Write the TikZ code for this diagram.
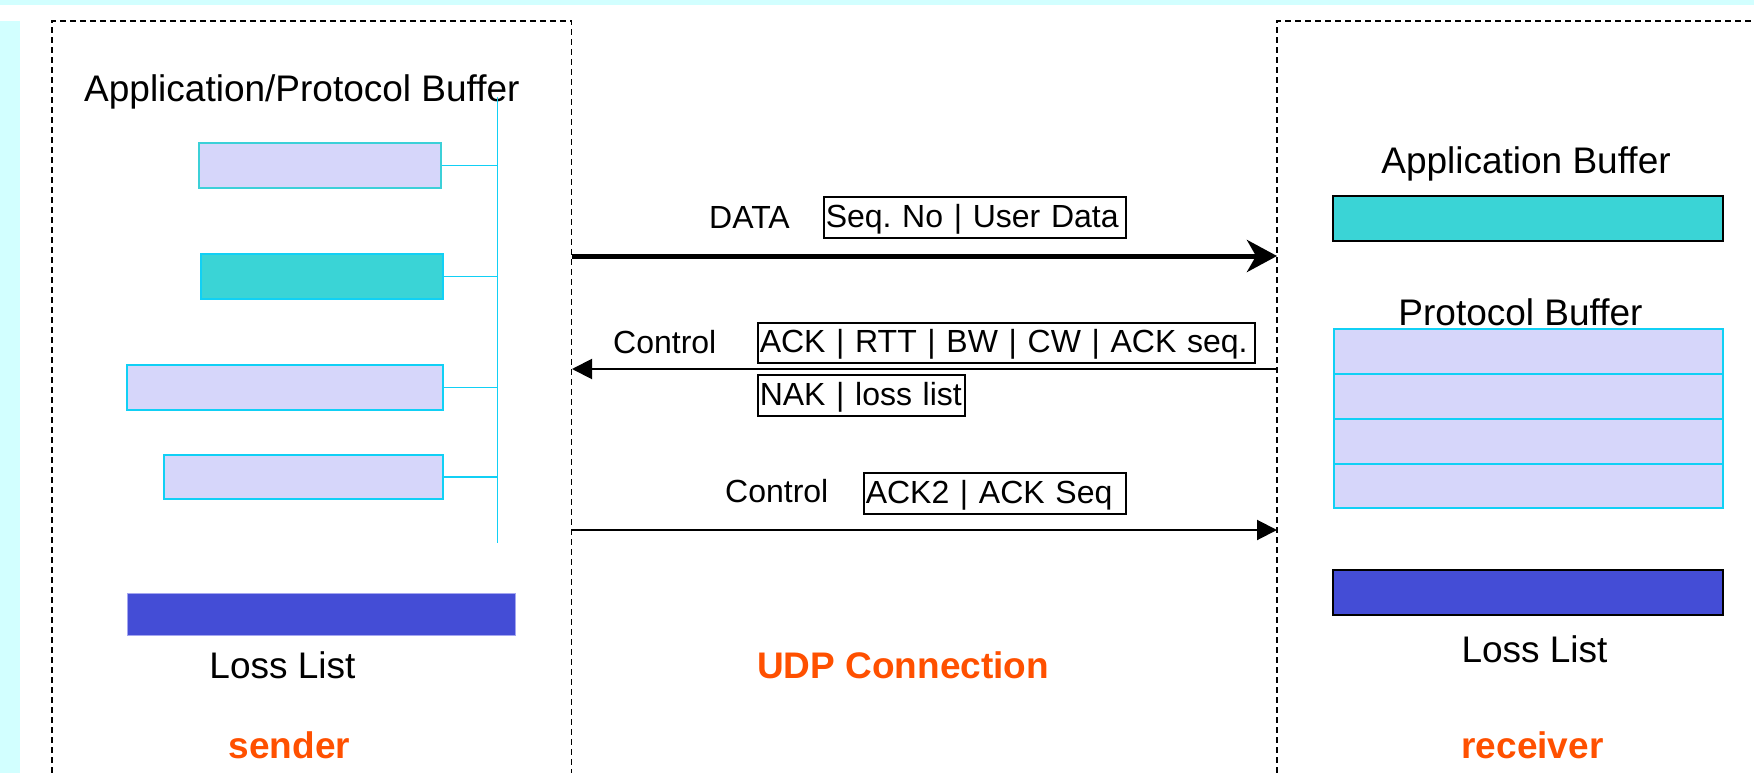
\documentclass[tikz,border=0pt]{standalone}
\usepackage{fontspec}
\setmainfont{Liberation Sans}
\usetikzlibrary{arrows.meta}
\definecolor{bgcyan}{HTML}{D2FFFF}
\definecolor{lav}{HTML}{D6D6FA}
\definecolor{turq}{HTML}{3AD4D6}
\definecolor{lossblue}{HTML}{444DD6}
\definecolor{wire}{HTML}{11D0F5}
\definecolor{orng}{HTML}{FF5000}
\definecolor{tealedge}{HTML}{3CD0D8}
\definecolor{lossedge}{HTML}{A4A6F0}
\begin{document}
\frenchspacing
\begin{tikzpicture}[x=1pt,y=-1pt,
  big/.style={font=\fontsize{37}{44}\selectfont, inner sep=0pt},
  mid/.style={font=\fontsize{32}{38}\selectfont, inner sep=0pt},
  hdr/.style={font=\fontsize{37}{44}\selectfont\bfseries, text=orng, inner sep=0pt},
  pkt/.style={draw=black, line width=1.5pt, anchor=north west, inner xsep=2pt, inner ysep=0pt,
    font=\fontsize{32}{38}\selectfont, align=left, text height=26pt, text depth=6pt},
  sbuf/.style={draw=wire, line width=2pt, fill=lav, anchor=north west, inner sep=0pt},
  bar/.style={draw=black, line width=1.5pt, anchor=north west, inner sep=0pt, minimum width=390, minimum height=45},
  zone/.style={dash pattern=on 6pt off 4pt, line width=1.3pt},
  bus/.style={draw=wire, line width=1.8pt},
  ctl/.style={line width=2pt, -{Triangle[length=20pt, width=20pt]}},
]
\useasboundingbox (0,0) rectangle (1754,773);
% background decorations
\fill[bgcyan] (0,0) rectangle (1754,5.5);
\fill[bgcyan] (0,21) rectangle (20,773);

% zones
\draw[zone] (52,773) -- (52,21) -- (571.7,21) -- (571.7,773);
\draw[zone] (1277,773) -- (1277,21) -- (1754,21);

% sender
\node[big, anchor=base west] (apl) at (84,102) {Application/Protocol Buffer};
\node[sbuf, draw=tealedge, minimum width=242, minimum height=45] (s1) at (198,142) {};
\node[sbuf, fill=turq, minimum width=242, minimum height=45] (s2) at (200,253) {};
\node[sbuf, minimum width=316, minimum height=45] (s3) at (126,364) {};
\node[sbuf, minimum width=279, minimum height=44] (s4) at (163,454) {};
\coordinate (bustop) at (497.5,97);
\coordinate (busbot) at (497.5,543);
\draw[bus] (bustop) -- (busbot);
\draw[bus] (s1.east) -- (s1.east -| bustop);
\draw[bus] (s2.east) -- (s2.east -| bustop);
\draw[bus] (s3.east) -- (s3.east -| bustop);
\draw[bus] (s4.east) -- (s4.east -| bustop);
\node[bar, draw=lossedge, line width=1pt, fill=lossblue, minimum width=388, minimum height=42] (sloss) at (127,593) {};
\node[big, anchor=base] (sll) at (282.5,678) {Loss List};
\node[hdr, anchor=base] (snd) at (289.5,758) {sender};

% middle
\coordinate (dL) at (572,256);
\coordinate (dR) at (1277,256);
\draw[line width=5pt, -{Stealth[length=30pt, width=32pt, inset=9pt]}] (dL) -- (dR);
\node[mid, anchor=base west] (data) at (709,228) {DATA};
\node[pkt, text width=298, minimum height=41] (seq) at (823,196) {\mbox{Seq. No | User Data}};

\coordinate (cR1) at (1277,369);
\coordinate (cL1) at (572,369);
\draw[ctl] (cR1) -- (cL1);
\node[mid, anchor=base west] (ctl1) at (613,353) {Control};
\node[pkt, text width=493, minimum height=40] (ack) at (757,322) {\mbox{ACK | RTT | BW | CW | ACK seq.}};
\node[pkt, text width=203, minimum height=41] (nak) at (757,374) {\mbox{NAK | loss list}};

\coordinate (cL2) at (572,530);
\coordinate (cR2) at (1277,530);
\draw[ctl] (cL2) -- (cR2);
\node[mid, anchor=base west] (ctl2) at (725,502) {Control};
\node[pkt, text width=258, minimum height=41] (ack2) at (863,472) {\mbox{ACK2 | ACK Seq}};

\node[hdr, anchor=base west] (udp) at (757,678) {UDP Connection};

% receiver
\node[big, anchor=base] (rab) at (1526,173) {Application Buffer};
\node[bar, fill=turq] (rapp) at (1332,195) {};
\node[sbuf, minimum width=389, minimum height=45] (rp1) at (1333,328) {};
\node[sbuf, minimum width=389, minimum height=45] (rp2) at (1333,373) {};
\node[sbuf, minimum width=389, minimum height=45] (rp3) at (1333,418) {};
\node[sbuf, minimum width=389, minimum height=44] (rp4) at (1333,463) {};
\node[big, anchor=base] (rpb) at (1520.5,325) {Protocol Buffer};
\node[bar, fill=lossblue] (rloss) at (1332,569) {};
\node[big, anchor=base] (rll) at (1534.5,662) {Loss List};
\node[hdr, anchor=base] (rcv) at (1532.5,758) {receiver};
\end{tikzpicture}
\end{document}
